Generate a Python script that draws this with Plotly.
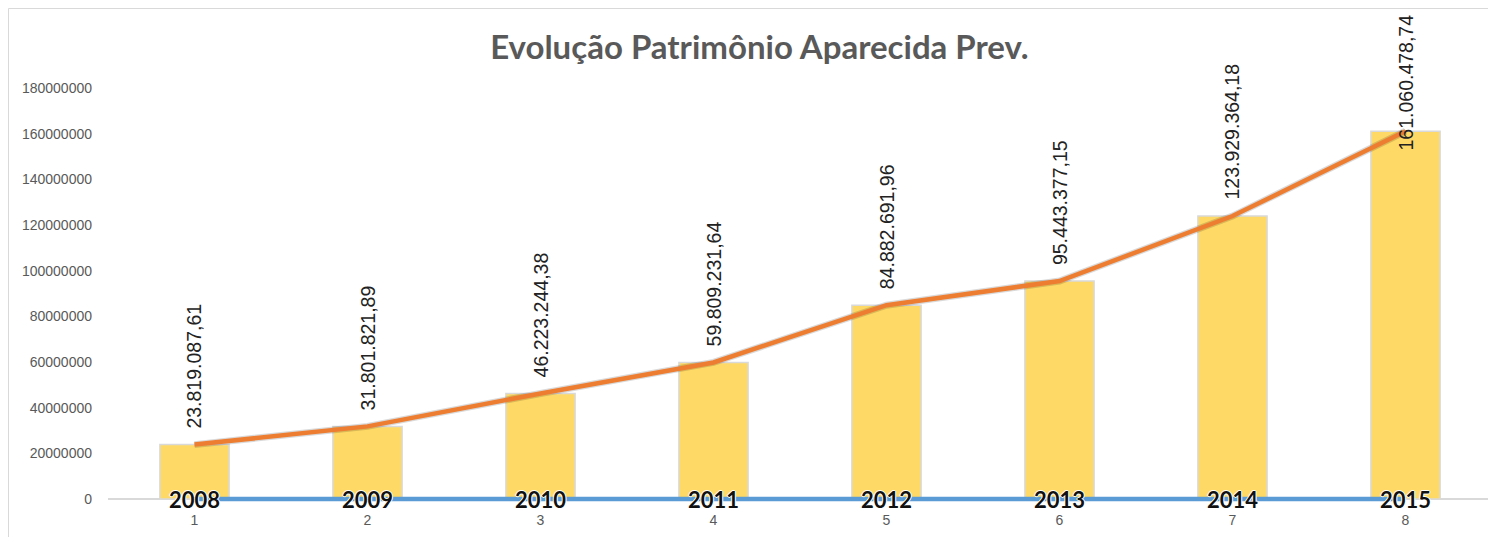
import plotly.graph_objects as go

categories = [1, 2, 3, 4, 5, 6, 7, 8]
years = [2008, 2009, 2010, 2011, 2012, 2013, 2014, 2015]
patrimonio = [23819087.61, 31801821.89, 46223244.38, 59809231.64,
              84882691.96, 95443377.15, 123929364.18, 161060478.74]
labels = ["23.819.087,61", "31.801.821,89", "46.223.244,38", "59.809.231,64",
          "84.882.691,96", "95.443.377,15", "123.929.364,18", "161.060.478,74"]
title = "Evolução Patrimônio Aparecida Prev."

YMAX = 180000000
AXIS_PX = 411           # pixel height of 0..YMAX
PAD_PX = 4              # extra room below zero so the blue line is not clipped
YMIN = -PAD_PX * YMAX / AXIS_PX

fig = go.Figure()
fig.add_trace(go.Bar(x=categories, y=patrimonio, width=0.4,
                     marker=dict(color="#FFD966", line=dict(color="#D9D9D9", width=1.5)),
                     hoverinfo="skip"))
fig.add_trace(go.Scatter(x=categories, y=patrimonio, mode="lines",
                         line=dict(color="rgba(0,0,0,0.15)", width=7),
                         hoverinfo="skip"))
fig.add_trace(go.Scatter(x=categories, y=patrimonio, mode="lines",
                         line=dict(color="#ED7D31", width=4.5)))
fig.add_trace(go.Scatter(x=categories, y=years, mode="lines",
                         line=dict(color="#5B9BD5", width=4.5)))

lab_font = dict(family="Liberation Sans", size=19.5, color="#222222")
top_paper = 1 + 75 / (AXIS_PX + PAD_PX)
ann = []
for c, v, t in zip(categories, patrimonio, labels):
    if v > 150000000:
        ann.append(dict(x=c, y=top_paper, yref="paper", xref="x", text=t, textangle=-90,
                        showarrow=False, yanchor="top", xanchor="center", font=lab_font))
    else:
        ann.append(dict(x=c, y=v, text=t, textangle=-90, showarrow=False,
                        yanchor="bottom", xanchor="center", yshift=14, font=lab_font))
outline = "1px 0 0 #fff, -1px 0 0 #fff, 0 1px 0 #fff, 0 -1px 0 #fff"
for c, yv in zip(categories, years):
    ann.append(dict(x=c, y=yv, text=str(yv), showarrow=False, yanchor="middle",
                    xanchor="center", yshift=0,
                    font=dict(family="Lato", size=22, color="#111111", weight="bold",
                              shadow=outline)))

H = AXIS_PX + PAD_PX
fig.update_layout(
    width=1488, height=529,
    margin=dict(l=100, r=4, t=80, b=38 - PAD_PX),
    paper_bgcolor="white", plot_bgcolor="white",
    showlegend=False,
    title=dict(text=title, x=0.505, xanchor="center", y=0.926, yanchor="middle",
               font=dict(family="Lato", size=33, color="#595959", weight="bold")),
    annotations=ann,
    shapes=[dict(type="rect", xref="paper", yref="paper",
                 x0=-0.0719, x1=1.05, y0=-0.2, y1=1 + 79.5 / H,
                 line=dict(color="#D9D9D9", width=1), fillcolor="rgba(0,0,0,0)", layer="below")],
)
fig.update_xaxes(range=[0.5, 8.5], tickvals=categories, ticktext=[str(c) for c in categories],
                 showgrid=False, showline=False, layer="below traces",
                 zeroline=False, ticks="", ticklabelstandoff=7,
                 tickfont=dict(family="Liberation Sans", size=14, color="#595959"))
fig.update_yaxes(range=[YMIN, YMAX], tickvals=list(range(0, YMAX + 1, 20000000)),
                 tickformat="d", layer="below traces",
                 showgrid=False, showline=False, zeroline=True,
                 zerolinecolor="#D9D9D9", zerolinewidth=1.5, ticks="",
                 ticklabelstandoff=15,
                 tickfont=dict(family="Liberation Sans", size=14, color="#595959"))

fig.write_html("out.html")
